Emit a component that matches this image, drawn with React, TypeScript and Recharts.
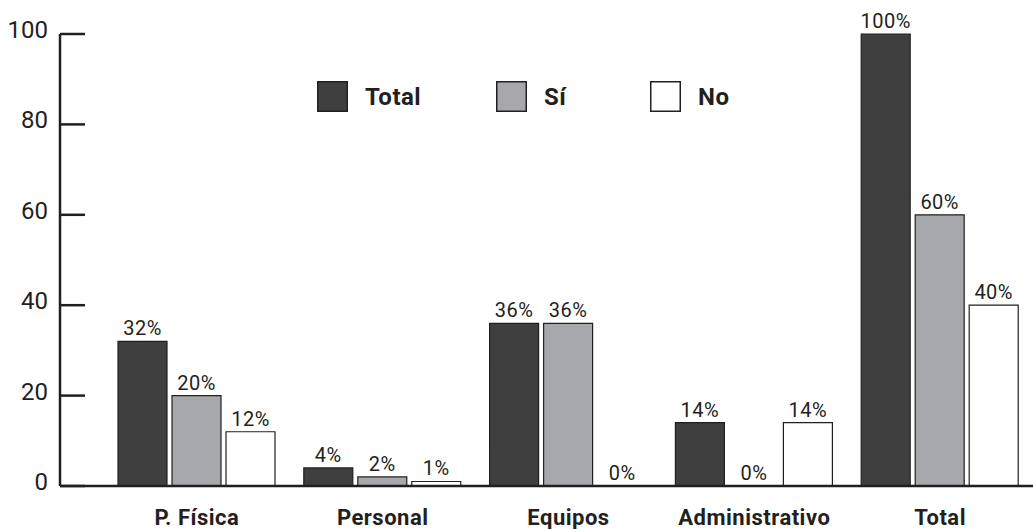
import { Bar, BarChart, LabelList, XAxis, YAxis } from 'recharts';

const categories = ['P. Física', 'Personal', 'Equipos', 'Administrativo', 'Total'];
const totalValues = [32, 4, 36, 14, 100];
const siValues = [20, 2, 36, 0, 60];
const noValues = [12, 1, 0, 14, 40];
const yTicks = [0, 20, 40, 60, 80, 100];

const INK = '#231f20';
const FONT = 'Roboto, "DejaVu Sans", sans-serif';

const series = [
  { key: 'total', name: 'Total', fill: '#3f3f3f' },
  { key: 'si', name: 'Sí', fill: '#a7a8ab' },
  { key: 'no', name: 'No', fill: '#ffffff' },
];

const data = categories.map((name, i) => ({
  name,
  total: totalValues[i],
  si: siValues[i],
  no: noValues[i],
}));

// legend squares sit at fixed spots above the plot
const legendLeft = [317, 496, 650];

function CategoryTick({ x, y, payload }: any) {
  return (
    <text
      x={x}
      y={y + 31}
      textAnchor="middle"
      fontSize={22}
      fontWeight={700}
      letterSpacing={0.5}
      fill={INK}
      fontFamily={FONT}
    >
      {payload.value}
    </text>
  );
}

function ValueTick({ x, y, payload }: any) {
  return (
    <g>
      <line x1={x + 12} x2={x + 37} y1={y} y2={y} stroke={INK} strokeWidth={2.5} />
      <text x={x} y={y + 4} textAnchor="end" fontSize={24} fill={INK} fontFamily={FONT}>
        {payload.value}
      </text>
    </g>
  );
}

function LegendOverlay() {
  return (
    <svg
      width={1033}
      height={529}
      style={{ position: 'absolute', left: 0, top: 0, pointerEvents: 'none' }}
    >
      {series.map((s, i) => (
        <g key={s.key}>
          <rect
            x={legendLeft[i] + 0.75}
            y={81.75}
            width={29.5}
            height={29.5}
            fill={s.fill}
            stroke={INK}
            strokeWidth={1.5}
          />
          <text
            x={legendLeft[i] + 48}
            y={105}
            fontSize={24}
            fontWeight={700}
            letterSpacing={0.5}
            fill={INK}
            fontFamily={FONT}
          >
            {s.name}
          </text>
        </g>
      ))}
    </svg>
  );
}

export default function App() {
  return (
    <div style={{ position: 'absolute', left: 0, top: 0, width: 1033, height: 529, background: '#fff' }}>
      <BarChart
        width={1033}
        height={529}
        data={data}
        margin={{ top: 34, right: 0, bottom: 0, left: 0 }}
        barGap={5}
        barSize={49}
        style={{ fontFamily: FONT }}
      >
        <XAxis
          dataKey="name"
          height={43}
          padding={{ left: 44, right: 0 }}
          axisLine={{ stroke: INK, strokeWidth: 2.5 }}
          tickLine={false}
          tick={<CategoryTick />}
          interval={0}
        />
        <YAxis
          width={60}
          domain={[0, 100]}
          ticks={yTicks}
          tickSize={0}
          tickMargin={12}
          axisLine={{ stroke: INK, strokeWidth: 2.5 }}
          tickLine={false}
          tick={<ValueTick />}
        />
        {series.map((s) => (
          <Bar
            key={s.key}
            dataKey={s.key}
            name={s.name}
            fill={s.fill}
            stroke={INK}
            strokeWidth={1.2}
            minPointSize={0.5}
            isAnimationActive={false}
          >
            <LabelList
              dataKey={s.key}
              position="top"
              offset={6}
              formatter={(v: any) => `${v}%`}
              fill={INK}
              fontSize={20}
              fontFamily={FONT}
              letterSpacing={0.5}
            />
          </Bar>
        ))}
      </BarChart>
      <LegendOverlay />
    </div>
  );
}
